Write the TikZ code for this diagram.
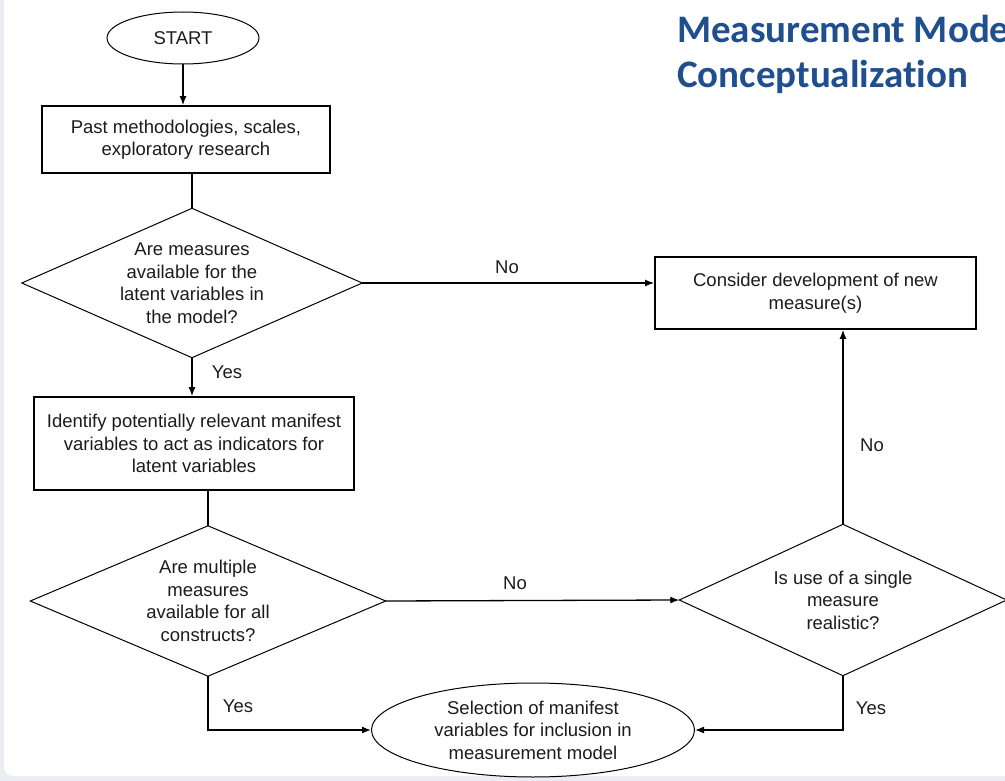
\documentclass[tikz,border=0pt]{standalone}
\usepackage{fontspec}
\setmainfont{Liberation Sans}
\newfontfamily\headfont[Ligatures=NoCommon]{Carlito}
\usetikzlibrary{shapes.geometric,arrows.meta}
\definecolor{headblue}{HTML}{1F4F8F}
\definecolor{pagegrey}{HTML}{ECEDF4}
\definecolor{inktext}{HTML}{1C1C1C}

\begin{document}
\begin{tikzpicture}[x=1pt,y=-1pt,
  every node/.style={font=\fontsize{18.5}{22.5}\selectfont, text=inktext},
  procbox/.style={draw, line width=1.8pt, align=center, inner sep=0pt},
  decisiontext/.style={rectangle, align=center, inner sep=0pt},
  decisionline/.style={line width=1pt, line join=miter},
  terminal/.style={draw, ellipse, line width=1pt, align=center, inner sep=0pt},
  flow/.style={line width=1.3pt},
  flowarrow/.style={line width=1.3pt, -{Latex[length=9pt,width=7pt]}},
  answer/.style={inner sep=0pt},
  heading/.style={anchor=base west, inner sep=0pt, text=headblue,
    font=\headfont\bfseries\fontsize{39}{44}\selectfont}
]
\useasboundingbox (0,0) rectangle (1005,781);
\begin{scope}
\clip (0,0) rectangle (1005,781);

% page background with a rounded white panel
\fill[pagegrey] (0,0) rectangle (1005,781);
\fill[white, rounded corners=9pt] (4,-20) rectangle (1040,776);

% heading
\node[heading] (title1) at (677,43) {Measurement Model};
\node[heading] (title2) at (677,88) {Conceptualization};

% process and terminal nodes
\node[terminal, minimum width=152pt, minimum height=52pt] (start) at (183,38) {START};
\node[procbox, minimum width=288pt, minimum height=67pt] (past) at (186,139.5)
  {Past methodologies, scales,\\exploratory research};
\node[procbox, minimum width=321pt, minimum height=72pt] (newm) at (815.5,293)
  {Consider development of new\\measure(s)};
\node[procbox, minimum width=320pt, minimum height=93pt] (ident) at (194,443.5)
  {Identify potentially relevant manifest\\variables to act as indicators for\\latent variables};
\node[terminal, minimum width=323pt, minimum height=94pt] (select) at (533,730)
  {Selection of manifest\\variables for inclusion in\\measurement model};

% decisions: a text box whose side midpoints are the diamond's corners
\node[decisiontext, minimum width=340pt, minimum height=149pt] (avail) at (192,283)
  {Are measures\\available for the\\latent variables in\\the model?};
\node[decisiontext, minimum width=355pt, minimum height=150pt] (multi) at (208,601)
  {Are multiple\\measures\\available for all\\constructs?};
\node[decisiontext, minimum width=327pt, minimum height=151pt] (single) at (843,600)
  {Is use of a single\\measure\\realistic?};
\foreach \d in {avail,multi,single}
  \draw[decisionline] (\d.north) -- (\d.east) -- (\d.south) -- (\d.west) -- cycle;

\coordinate (leftturn) at (multi.south |- select.west);
\coordinate (rightturn) at (single.south |- select.east);

% connectors
\draw[flowarrow] (start.south) -- (start.south |- past.north);
\draw[flow] (avail.north |- past.south) -- (avail.north);
\draw[flowarrow] (avail.east) -- (avail.east -| newm.west);
\draw[flowarrow] (avail.south) -- (avail.south |- ident.north);
\draw[flow] (multi.north |- ident.south) -- (multi.north);
\draw[flowarrow] (multi.east) -- (single.west);
\draw[flowarrow] (single.north) -- (single.north |- newm.south);
\draw[flowarrow] (multi.south) -- (leftturn) -- (select.west);
\draw[flowarrow] (single.south) -- (rightturn) -- (select.east);

% branch labels
\node[answer] (noA) at (507,267) {No};
\node[answer] (yesA) at (227,372) {Yes};
\node[answer] (noB) at (515,583) {No};
\node[answer] (noC) at (872,445) {No};
\node[answer] (yesB) at (238,706) {Yes};
\node[answer] (yesC) at (871,708) {Yes};
\end{scope}
\end{tikzpicture}
\end{document}
